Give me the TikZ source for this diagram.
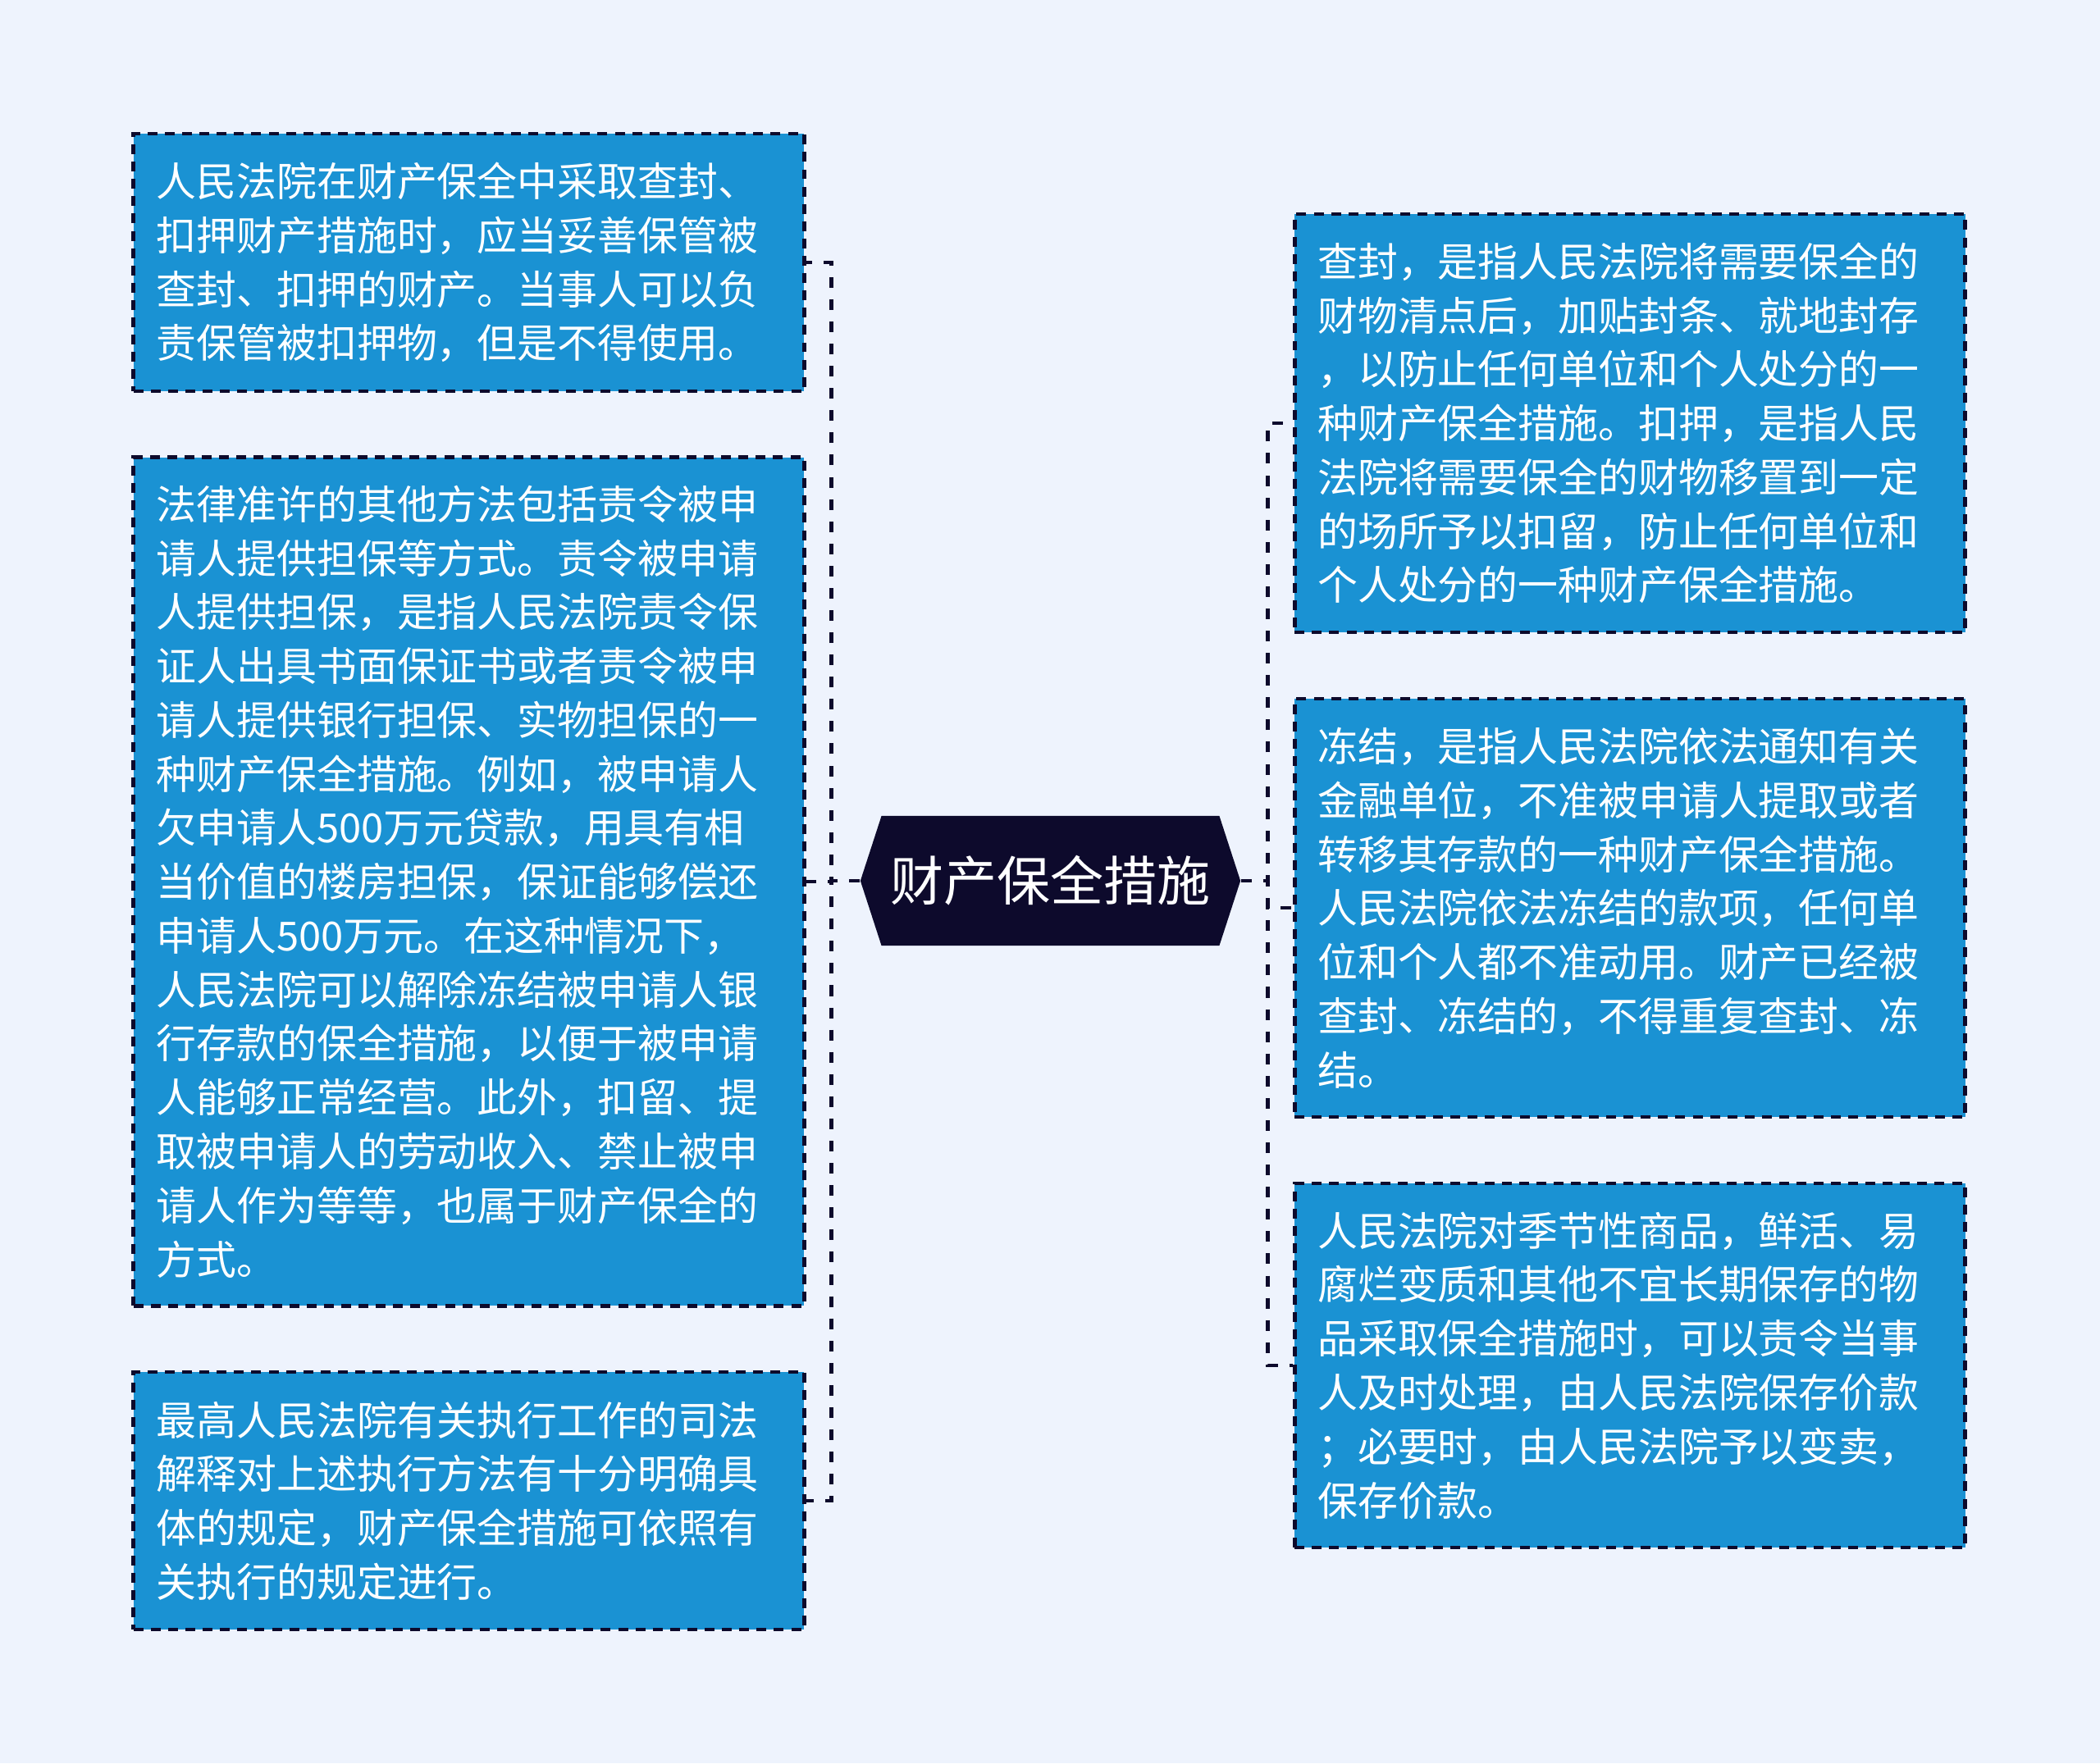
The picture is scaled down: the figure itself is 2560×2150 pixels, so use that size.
\documentclass[tikz,border=0pt]{standalone}
\usepackage{fontspec}
\setmainfont{Noto Sans CJK SC}
\usetikzlibrary{shapes.symbols}
\definecolor{bgblue}{HTML}{EEF3FD}
\definecolor{boxblue}{HTML}{1A92D3}
\definecolor{navy}{HTML}{0D0A2C}

\begin{document}
\begin{tikzpicture}[x=0.01cm,y=-0.01cm]
\tikzstyle{leaf}=[draw=navy, fill=boxblue, line width=1.3pt, dash pattern=on 3.4pt off 2.6pt, text=white, text width=7.61cm, minimum width=8.17cm, inner xsep=0.28cm, inner ysep=0pt, align=left, font=\fontsize{13.9pt}{18.7pt}\selectfont]
\tikzstyle{link}=[navy, line width=1.4pt, dash pattern=on 3.7pt off 4pt]
\fill [bgblue] (0,0) rectangle (2560,2150);
\node [signal, signal to=west and east, signal pointer angle=144, fill=navy, text=white, minimum width=4.63cm, minimum height=1.58cm, inner sep=0pt, font=\fontsize{18.5pt}{22pt}\selectfont] (root) at (1280.5,1074) {财产保全措施};
\node [leaf, minimum height=3.14cm] (l1) at (571.5,320) {人民法院在财产保全中采取查封、\\扣押财产措施时，应当妥善保管被\\查封、扣押的财产。当事人可以负\\责保管被扣押物，但是不得使用。};
\node [leaf, minimum height=10.34cm] (l2) at (571.5,1075) {法律准许的其他方法包括责令被申\\请人提供担保等方式。责令被申请\\人提供担保，是指人民法院责令保\\证人出具书面保证书或者责令被申\\请人提供银行担保、实物担保的一\\种财产保全措施。例如，被申请人\\欠申请人500万元贷款，用具有相\\当价值的楼房担保，保证能够偿还\\申请人500万元。在这种情况下，\\人民法院可以解除冻结被申请人银\\行存款的保全措施，以便于被申请\\人能够正常经营。此外，扣留、提\\取被申请人的劳动收入、禁止被申\\请人作为等等，也属于财产保全的\\方式。};
\node [leaf, minimum height=3.14cm] (l3) at (571.5,1830) {最高人民法院有关执行工作的司法\\解释对上述执行方法有十分明确具\\体的规定，财产保全措施可依照有\\关执行的规定进行。};
\node [leaf, minimum height=5.1cm] (r1) at (1987,516) {查封，是指人民法院将需要保全的\\财物清点后，加贴封条、就地封存\\，以防止任何单位和个人处分的一\\种财产保全措施。扣押，是指人民\\法院将需要保全的财物移置到一定\\的场所予以扣留，防止任何单位和\\个人处分的一种财产保全措施。};
\node [leaf, minimum height=5.1cm] (r2) at (1987,1107) {冻结，是指人民法院依法通知有关\\金融单位，不准被申请人提取或者\\转移其存款的一种财产保全措施。\\人民法院依法冻结的款项，任何单\\位和个人都不准动用。财产已经被\\查封、冻结的，不得重复查封、冻\\结。};
\node [leaf, minimum height=4.44cm] (r3) at (1987,1665) {人民法院对季节性商品，鲜活、易\\腐烂变质和其他不宜长期保存的物\\品采取保全措施时，可以责令当事\\人及时处理，由人民法院保存价款\\；必要时，由人民法院予以变卖，\\保存价款。};
\draw [link] (root.west) -- ++(-35,0) |- (l1.east);
\draw [link] (root.west) -- ++(-35,0) |- (l2.east);
\draw [link] (root.west) -- ++(-35,0) |- (l3.east);
\draw [link] (root.east) -- ++(33,0) |- (r1.west);
\draw [link] (root.east) -- ++(33,0) |- (r2.west);
\draw [link] (root.east) -- ++(33,0) |- (r3.west);
\end{tikzpicture}
\end{document}
